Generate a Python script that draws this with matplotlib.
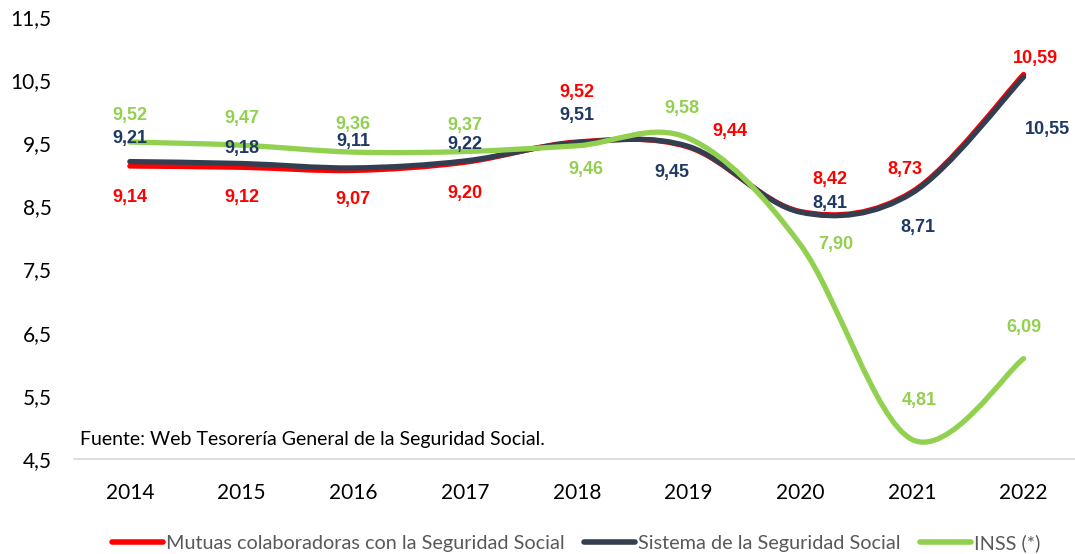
import numpy as np
import matplotlib
matplotlib.use("Agg")
import matplotlib.pyplot as plt
from matplotlib.path import Path
from matplotlib.patches import PathPatch
from matplotlib.lines import Line2D

years = ["2014", "2015", "2016", "2017", "2018", "2019", "2020", "2021", "2022"]
mutuas = [9.14, 9.12, 9.07, 9.20, 9.52, 9.44, 8.42, 8.73, 10.59]
sistema = [9.21, 9.18, 9.11, 9.22, 9.51, 9.45, 8.41, 8.71, 10.55]
inss = [9.52, 9.47, 9.36, 9.37, 9.46, 9.58, 7.90, 4.81, 6.09]
yticks = [4.5, 5.5, 6.5, 7.5, 8.5, 9.5, 10.5, 11.5]
source_text = "Fuente: Web Tesorería General de la Seguridad Social."
labels = ["Mutuas colaboradoras con la Seguridad Social", "Sistema de la Seguridad Social", "INSS (*)"]

# label offsets in pixels (dx, dy) relative to the data point
off_mutuas = [(0, -31), (0, -30), (0, -29), (0, -31), (0, 50), (41, 16), (30, 32), (-7, 22), (12, 16)]
off_sistema = [(0, 23), (0, 15), (0, 26), (0, 16), (0, 27), (-17, -26), (30, 9), (6, -34), (24, -53)]
off_inss = [(0, 27), (0, 27), (0, 28), (0, 26), (9, -24), (-7, 30), (36, 0), (7, 39), (0, 31)]

c_red = "#FF0000"
c_navy_line = "#333F50"
c_navy_txt = "#1F3864"
c_green = "#92D050"

fig = plt.figure(figsize=(10.75, 5.54), dpi=100)
ax = fig.add_axes([74 / 1075, 1 - 459 / 554, (1075 - 74) / 1075, (459 - 17) / 554])


def smooth_path(xs, ys):
    pts = np.column_stack([xs, ys]).astype(float)
    n = len(pts)
    verts = [pts[0]]
    codes = [Path.MOVETO]
    for i in range(n - 1):
        p0 = pts[max(i - 1, 0)]
        p1 = pts[i]
        p2 = pts[i + 1]
        p3 = pts[min(i + 2, n - 1)]
        c1 = p1 + (p2 - p0) / 6.0
        c2 = p2 - (p3 - p1) / 6.0
        verts += [c1, c2, p2]
        codes += [Path.CURVE4] * 3
    return Path(verts, codes)


x = np.arange(len(years))
for vals, col, z in [(mutuas, c_red, 2), (sistema, c_navy_line, 3), (inss, c_green, 4)]:
    patch = PathPatch(smooth_path(x, vals), facecolor="none", edgecolor=col, lw=3.8,
                      capstyle="round", joinstyle="round", zorder=z)
    ax.add_patch(patch)

for vals, offs, col in [(mutuas, off_mutuas, c_red), (sistema, off_sistema, c_navy_txt), (inss, off_inss, c_green)]:
    for xi, v, (dx, dy) in zip(x, vals, offs):
        ax.annotate(f"{v:.2f}".replace(".", ","), (xi, v), xytext=(dx, dy), textcoords="offset pixels",
                    ha="center", va="center", fontsize=13, fontweight="bold", color=col,
                    family="Liberation Sans", zorder=6)

ax.set_xlim(-0.5, 8.46)
ax.set_ylim(4.5, 11.5)
ax.set_xticks(x)
ax.set_xticklabels(years)
ax.set_yticks(yticks)
ax.set_yticklabels([f"{t:.1f}".replace(".", ",") for t in yticks])
ax.tick_params(axis="both", length=0, labelsize=15, labelcolor="#000000")
ax.tick_params(axis="x", pad=17)
ax.tick_params(axis="y", pad=16)
for lab in ax.get_xticklabels() + ax.get_yticklabels():
    lab.set_family("Lato")
for s in ["top", "right", "left"]:
    ax.spines[s].set_visible(False)
ax.spines["bottom"].set_color("#D9D9D9")
ax.spines["bottom"].set_linewidth(1.2)

fig.text(80 / 1075, 1 - 440 / 554, source_text, ha="left", va="center", fontsize=14,
         family="Lato", color="#000000")

handles = [Line2D([], [], color=c, lw=4, solid_capstyle="round") for c in [c_red, c_navy_line, c_green]]
fig.legend(handles, labels, loc="center", bbox_to_anchor=(0.536, 1 - 543 / 554), ncol=3, frameon=False,
           prop={"family": "Lato", "size": 14.3}, labelcolor="#595959", handlelength=2.6,
           handletextpad=0.15, columnspacing=0.95)

fig.savefig("out.png", dpi=100)
